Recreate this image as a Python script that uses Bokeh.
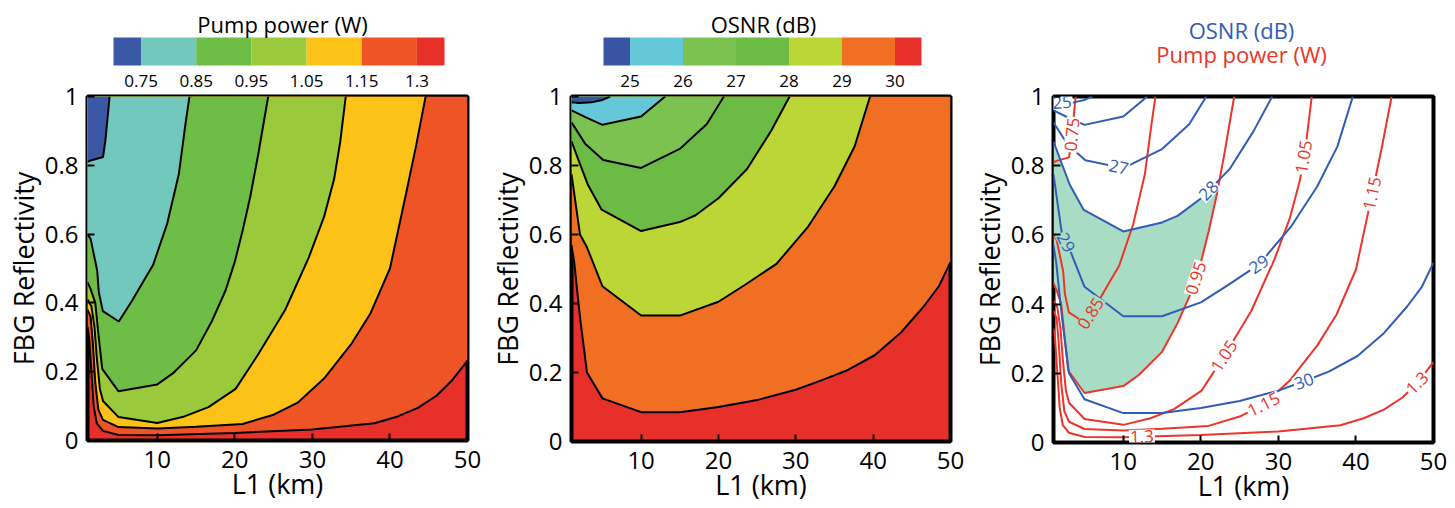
import math
from bokeh.plotting import figure
from bokeh.layouts import row, column
from bokeh.models import Range1d, FixedTicker, ColumnDataSource, LinearAxis
from bokeh.embed import file_html
from bokeh.resources import INLINE
from bokeh.core.properties import value

FONT = "Open Sans"

# ---------------- axes ----------------
L_MIN, L_MAX = 1.0, 50.0
R_MIN, R_MAX = 0.0, 1.0
x_ticks = [10, 20, 30, 40, 50]
y_ticks = [0, 0.2, 0.4, 0.6, 0.8, 1]
y_tick_labels = ["0", "0.2", "0.4", "0.6", "0.8", "1"]
x_label = "L1 (km)"
y_label = "FBG Reflectivity"

# ---------------- pump power contours (W) ----------------
pump_title = "Pump power (W)"
pump_level_labels = ["0.75", "0.85", "0.95", "1.05", "1.15", "1.3"]
pump_colors = ["#3b58a7", "#73c8bd", "#6dbd46", "#9bc93c", "#fdc217", "#ef5426", "#e8302a"]

pump_075_L = [1.0, 1.4, 3.0, 3.3, 3.6, 3.85]
pump_075_R = [0.81, 0.814, 0.824, 0.87, 0.94, 1.0]
pump_085_L = [1.0, 1.4, 2.25, 2.46, 2.98, 5.04, 6.76, 8.27, 9.45, 11.27, 12.78, 13.64, 14.15]
pump_085_R = [0.60, 0.586, 0.494, 0.431, 0.376, 0.346, 0.407, 0.465, 0.51, 0.63, 0.775, 0.921, 1.0]
pump_095_L = [1.0, 1.4, 2.0, 2.45, 2.9, 5.0, 10.0, 12.0, 15.0, 17.0, 18.8, 20.0, 21.0, 22.0, 23.0, 24.3]
pump_095_R = [0.46, 0.44, 0.40, 0.30, 0.208, 0.143, 0.163, 0.195, 0.262, 0.345, 0.436, 0.52, 0.61, 0.71, 0.83, 1.0]
pump_105_L = [1.0, 1.5, 1.9, 2.2, 2.6, 3.0, 5.0, 10.0, 13.5, 16.6, 20.1, 23.0, 26.5, 29.5, 31.5, 32.8, 33.6, 34.3]
pump_105_R = [0.41, 0.39, 0.33, 0.24, 0.15, 0.115, 0.068, 0.051, 0.07, 0.097, 0.15, 0.25, 0.38, 0.53, 0.65, 0.76, 0.87, 1.0]
pump_115_L = [1.0, 1.4, 1.7, 2.0, 2.4, 3.0, 5.0, 10.0, 15.0, 21.0, 25.0, 28.1, 31.5, 35.0, 37.5, 40.0, 42.1, 43.4, 44.6]
pump_115_R = [0.38, 0.36, 0.28, 0.17, 0.09, 0.06, 0.039, 0.035, 0.04, 0.048, 0.075, 0.11, 0.18, 0.28, 0.37, 0.5, 0.72, 0.86, 1.0]
pump_130_L = [1.0, 1.2, 1.5, 1.8, 2.2, 3.0, 5.0, 10.0, 20.0, 30.0, 38.0, 41.0, 43.6, 46.0, 47.9, 50.0]
pump_130_R = [0.33, 0.30, 0.2, 0.1, 0.05, 0.028, 0.016, 0.015, 0.022, 0.032, 0.05, 0.07, 0.095, 0.13, 0.172, 0.232]

pump_lines_L = [pump_075_L, pump_085_L, pump_095_L, pump_105_L, pump_115_L, pump_130_L]
pump_lines_R = [pump_075_R, pump_085_R, pump_095_R, pump_105_R, pump_115_R, pump_130_R]

# ---------------- OSNR contours (dB) ----------------
osnr_title = "OSNR (dB)"
osnr_level_labels = ["25", "26", "27", "28", "29", "30"]
osnr_colors = ["#3a54a4", "#65c8d8", "#7cc251", "#6cbb45", "#bdd637", "#f06f22", "#e8302a"]

osnr_25_L = [1.0, 2.0, 3.6, 5.0, 6.0]
osnr_25_R = [0.983, 0.981, 0.983, 0.99, 1.0]
osnr_26_L = [1.0, 2.8, 5.0, 10.0, 13.1]
osnr_26_R = [0.96, 0.94, 0.918, 0.942, 1.0]
osnr_27_L = [1.0, 2.8, 5.1, 10.0, 15.0, 18.5, 20.7]
osnr_27_R = [0.925, 0.862, 0.816, 0.793, 0.848, 0.92, 1.0]
osnr_28_L = [1.0, 2.0, 3.1, 4.9, 10.0, 15.0, 17.0, 20.0, 23.7, 26.8, 29.2]
osnr_28_R = [0.87, 0.81, 0.745, 0.672, 0.61, 0.636, 0.655, 0.705, 0.79, 0.9, 1.0]
osnr_29_L = [1.0, 2.1, 3.0, 5.0, 10.0, 15.0, 20.0, 23.5, 27.5, 31.6, 35.0, 37.6, 39.6]
osnr_29_R = [0.775, 0.6, 0.563, 0.45, 0.365, 0.365, 0.405, 0.455, 0.515, 0.623, 0.74, 0.855, 1.0]
osnr_30_L = [1.0, 1.35, 2.1, 3.0, 5.0, 10.0, 15.0, 20.0, 25.0, 30.0, 33.3, 36.5, 40.2, 43.6, 46.6, 48.5, 50.0]
osnr_30_R = [0.57, 0.52, 0.36, 0.2, 0.125, 0.085, 0.085, 0.1, 0.12, 0.15, 0.177, 0.205, 0.25, 0.316, 0.393, 0.45, 0.52]

osnr_lines_L = [osnr_25_L, osnr_26_L, osnr_27_L, osnr_28_L, osnr_29_L, osnr_30_L]
osnr_lines_R = [osnr_25_R, osnr_26_R, osnr_27_R, osnr_28_R, osnr_29_R, osnr_30_R]

# ---------------- overlay panel ----------------
overlay_blue = "#2f5db6"
overlay_red = "#ec3429"
overlay_shade = "#a8dcc5"
label_text = ["25", "0.75", "27", "28", "29", "29", "30", "0.85", "0.95", "1.05", "1.05", "1.15", "1.15", "1.3", "1.3"]
label_kind = ["osnr", "pump", "osnr", "osnr", "osnr", "osnr", "osnr", "pump", "pump", "pump", "pump", "pump", "pump", "pump", "pump"]
label_level = [0, 0, 2, 3, 4, 4, 5, 1, 2, 3, 3, 4, 4, 5, 5]
label_L = [2.1, 3.39, 9.4, 21.0, 2.6, 27.5, 33.3, 5.8, 19.36, 33.27, 23.0, 42.1, 28.1, 47.9, 12.4]
label_R = [0.983, 0.89, 0.796, 0.728, 0.578, 0.515, 0.177, 0.373, 0.475, 0.825, 0.25, 0.72, 0.11, 0.172, 0.017]

# ---------------- layout constants (page pixels) ----------------
FIG_H = 508
FRAME_TOP = 96
top_h = [66, 66, 70]
panel_left = [87, 87, 87]
panel_frame_w = [380, 379, 380]
panel_right = [17, 16, 22]
panel_frame_h = [344, 345, 346]
frame_left_abs = [87, 571, 1053]
CB_TOP, CB_BOTTOM = 37, 65
CB_TITLE_Y = 23
CB_LABEL_STANDOFF = 4
cb_left = [113, 603]
cb_right = [444, 921]
cb_title_x = [282, 763]
ov_title_x = 1241
ov_title_y = [29, 53]


def above_left(xs, ys):
    px, py = list(xs), list(ys)
    if px[-1] >= L_MAX - 1e-9:
        px += [L_MAX, L_MIN]
        py += [R_MAX, R_MAX]
    else:
        px += [L_MIN]
        py += [R_MAX]
    return px, py


def style_main(p):
    p.outline_line_color = "black"
    p.outline_line_width = 4
    p.xgrid.visible = False
    p.ygrid.visible = False
    p.xaxis.ticker = FixedTicker(ticks=x_ticks)
    p.yaxis.ticker = FixedTicker(ticks=y_ticks)
    p.yaxis.major_label_overrides = dict(zip(y_ticks, y_tick_labels))
    for ax in (p.xaxis[0], p.yaxis[0]):
        ax.axis_line_color = None
        ax.major_tick_in = 7
        ax.major_tick_out = 0
        ax.major_tick_line_width = 2
        ax.minor_tick_line_color = None
        ax.major_label_text_font = FONT
        ax.major_label_text_font_size = "24px"
        ax.major_label_text_color = "black"
        ax.axis_label_text_font = FONT
        ax.axis_label_text_font_size = "27px"
        ax.axis_label_text_font_style = "normal"
        ax.axis_label_text_color = "black"
    p.xaxis.axis_label = x_label
    p.yaxis.axis_label = y_label
    p.xaxis.major_label_standoff = 10
    p.xaxis.axis_label_standoff = -6
    p.yaxis.major_label_standoff = 9
    p.yaxis.axis_label_standoff = 0


def make_main(i, bg):
    p = figure(frame_width=panel_frame_w[i], frame_height=panel_frame_h[i],
               x_range=Range1d(L_MIN, L_MAX), y_range=Range1d(R_MIN, R_MAX),
               min_border_left=panel_left[i], min_border_right=panel_right[i],
               min_border_top=FRAME_TOP - top_h[i],
               min_border_bottom=FIG_H - FRAME_TOP - panel_frame_h[i],
               toolbar_location=None, output_backend="svg")
    p.background_fill_color = bg
    p.border_fill_color = "white"
    style_main(p)
    return p


def make_top(i):
    x0 = frame_left_abs[i]
    t = figure(frame_width=panel_frame_w[i], frame_height=top_h[i],
               x_range=Range1d(x0, x0 + panel_frame_w[i]), y_range=Range1d(top_h[i], 0),
               min_border_left=panel_left[i], min_border_right=panel_right[i],
               min_border_top=0, min_border_bottom=0,
               toolbar_location=None, output_backend="svg",
               x_axis_location=None, y_axis_location=None)
    t.outline_line_color = None
    t.xgrid.visible = False
    t.ygrid.visible = False
    return t


def make_colorbar_top(i, title, labels, colors):
    t = make_top(i)
    n = 2 * len(labels)
    unit = (cb_right[i] - cb_left[i]) / n
    lefts, rights = [], []
    for k in range(len(colors)):
        a = 0 if k == 0 else 2 * k - 1
        b = n if k == len(colors) - 1 else 2 * k + 1
        lefts.append(cb_left[i] + a * unit)
        rights.append(cb_left[i] + b * unit)
    t.quad(left=lefts, right=rights, top=CB_TOP, bottom=CB_BOTTOM,
           fill_color=colors, line_color=None)
    t.text(x=[cb_title_x[i]], y=[CB_TITLE_Y], text=[title], text_font=value(FONT),
           text_font_size="22px", text_align="center", text_baseline="middle", text_color="black")
    return t


def add_colorbar_axis(p, i, labels):
    # tick labels of the colour bar: an axis above the frame, in colour-bar units
    n = 2 * len(labels)
    unit = (cb_right[i] - cb_left[i]) / n
    start = (frame_left_abs[i] - cb_left[i]) / unit
    end = (frame_left_abs[i] + panel_frame_w[i] - cb_left[i]) / unit
    p.extra_x_ranges = {"cb": Range1d(start, end)}
    ticks = [2 * k + 1 for k in range(len(labels))]
    ax = LinearAxis(x_range_name="cb", ticker=FixedTicker(ticks=ticks),
                    major_label_overrides=dict(zip(ticks, labels)))
    ax.axis_line_color = None
    ax.major_tick_line_color = None
    ax.minor_tick_line_color = None
    ax.major_label_standoff = CB_LABEL_STANDOFF
    ax.major_label_text_font = FONT
    ax.major_label_text_font_size = "17px"
    ax.major_label_text_color = "black"
    p.add_layout(ax, "above")


def filled_panel(i, lines_L, lines_R, colors):
    p = make_main(i, colors[-1])
    for k in reversed(range(len(lines_L))):
        xs, ys = above_left(lines_L[k], lines_R[k])
        p.patch(xs, ys, fill_color=colors[k], line_color=None)
    for k in range(len(lines_L)):
        p.line(lines_L[k], lines_R[k], line_color="black", line_width=2)
    return p


def polyline_intersection(x1, y1, x2, y2):
    for i in range(len(x1) - 1):
        for j in range(len(x2) - 1):
            rx, ry = x1[i + 1] - x1[i], y1[i + 1] - y1[i]
            sx, sy = x2[j + 1] - x2[j], y2[j + 1] - y2[j]
            den = rx * sy - ry * sx
            if abs(den) < 1e-12:
                continue
            qx, qy = x2[j] - x1[i], y2[j] - y1[i]
            t = (qx * sy - qy * sx) / den
            u = (qx * ry - qy * rx) / den
            if 0 <= t <= 1 and 0 <= u <= 1:
                return i, j, x1[i] + t * rx, y1[i] + t * ry
    return None


def inside(px, py, xs, ys):
    c = False
    n = len(xs)
    for a in range(n):
        b = (a - 1) % n
        if (ys[a] > py) != (ys[b] > py):
            xi = xs[a] + (py - ys[a]) * (xs[b] - xs[a]) / (ys[b] - ys[a])
            if px < xi:
                c = not c
    return c


def seg_angle(xs, ys, lx, ly, sx, sy):
    best, ang = 1e18, 0.0
    for k in range(len(xs) - 1):
        ax, ay = xs[k] * sx, ys[k] * sy
        bx, by = xs[k + 1] * sx, ys[k + 1] * sy
        cx, cy = lx * sx, ly * sy
        dx, dy = bx - ax, by - ay
        t = max(0, min(1, ((cx - ax) * dx + (cy - ay) * dy) / (dx * dx + dy * dy)))
        d = (ax + t * dx - cx) ** 2 + (ay + t * dy - cy) ** 2
        if d < best:
            best = d
            a = math.degrees(math.atan2(dy, dx))
            if a > 90:
                a -= 180
            if a <= -90:
                a += 180
            ang = a
    return ang


# ---------------- panel 1 ----------------
top1 = make_colorbar_top(0, pump_title, pump_level_labels, pump_colors)
p1 = filled_panel(0, pump_lines_L, pump_lines_R, pump_colors)
add_colorbar_axis(p1, 0, pump_level_labels)

# ---------------- panel 2 ----------------
top2 = make_colorbar_top(1, osnr_title, osnr_level_labels, osnr_colors)
p2 = filled_panel(1, osnr_lines_L, osnr_lines_R, osnr_colors)
add_colorbar_axis(p2, 1, osnr_level_labels)

# ---------------- panel 3 ----------------
top3 = make_top(2)
top3.text(x=[ov_title_x, ov_title_x], y=ov_title_y, text=[osnr_title, pump_title],
          text_color=[overlay_blue, overlay_red], text_font=value(FONT),
          text_font_size="22px", text_align="center", text_baseline="middle")

p3 = make_main(2, "white")
i28 = 3
i95 = 2
ia, jb, ix, iy = polyline_intersection(osnr_lines_L[i28], osnr_lines_R[i28],
                                       pump_lines_L[i95], pump_lines_R[i95])
shade_x = osnr_lines_L[i28][:ia + 1] + [ix] + pump_lines_L[i95][jb::-1]
shade_y = osnr_lines_R[i28][:ia + 1] + [iy] + pump_lines_R[i95][jb::-1]
p3.patch(shade_x, shade_y, fill_color=overlay_shade, line_color=None)
for k in range(len(pump_lines_L)):
    p3.line(pump_lines_L[k], pump_lines_R[k], line_color=overlay_red, line_width=2)
for k in range(len(osnr_lines_L)):
    p3.line(osnr_lines_L[k], osnr_lines_R[k], line_color=overlay_blue, line_width=2)

sx = panel_frame_w[2] / (L_MAX - L_MIN)
sy = panel_frame_h[2] / (R_MAX - R_MIN)
angles, tcolors, bgs = [], [], []
for n in range(len(label_text)):
    if label_kind[n] == "osnr":
        xs, ys = osnr_lines_L[label_level[n]], osnr_lines_R[label_level[n]]
        tcolors.append(overlay_blue)
    else:
        xs, ys = pump_lines_L[label_level[n]], pump_lines_R[label_level[n]]
        tcolors.append(overlay_red)
    angles.append(seg_angle(xs, ys, label_L[n], label_R[n], sx, sy))
    bgs.append(overlay_shade if inside(label_L[n], label_R[n], shade_x, shade_y) else "white")

lab_src = ColumnDataSource(dict(x=label_L, y=label_R, text=label_text, angle=angles,
                                color=tcolors, bg=bgs))
p3.text(x="x", y="y", text="text", angle="angle", angle_units="deg", source=lab_src,
        text_color="color", text_font=value(FONT), text_font_size="17px",
        text_align="center", text_baseline="middle",
        background_fill_color="bg", padding=1)

layout = row(column(top1, p1), column(top2, p2), column(top3, p3))

html = file_html(layout, INLINE, "FBG contour maps")
with open("out.html", "w") as f:
    f.write(html)
